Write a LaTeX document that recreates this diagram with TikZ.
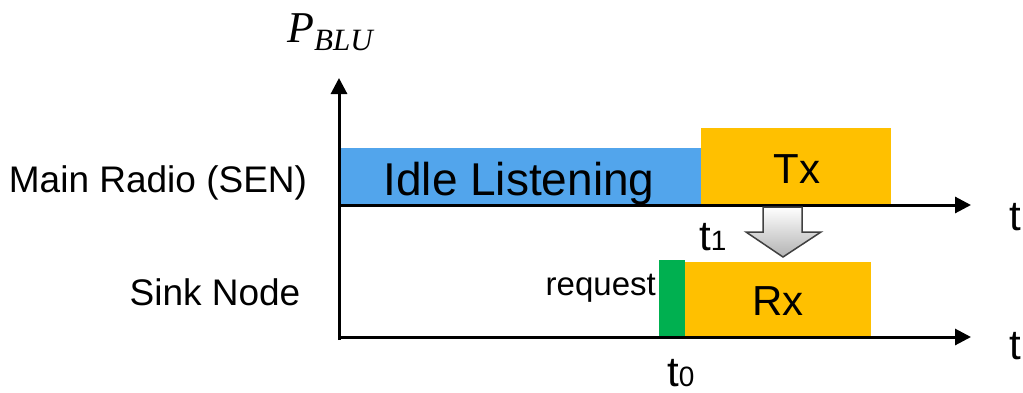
\documentclass[tikz,border=0pt]{standalone}
\usepackage{fontspec}
\setmainfont{Liberation Sans}
\newfontfamily\pfont{Liberation Serif}
\usetikzlibrary{arrows.meta}
\definecolor{idleblue}{HTML}{52A5EC}
\definecolor{txorange}{HTML}{FFC000}
\definecolor{reqgreen}{HTML}{00B050}
\begin{document}
\begin{tikzpicture}[x=1pt,y=-1pt,
  axis/.style={line width=3pt,-{Triangle[length=16pt,width=16pt]}},
  lbl/.style={inner sep=0pt,font=\fontsize{37}{40}\selectfont},
  big/.style={inner sep=0pt,font=\fontsize{42}{46}\selectfont}]
\useasboundingbox (0,0) rectangle (1023,392);
% bars
\fill[idleblue] (339,148) rectangle (703,205);
\fill[txorange] (701,128) rectangle (891,205);
\fill[reqgreen] (659,260) rectangle (685,337);
\fill[txorange] (685,262) rectangle (871,337);
% axes
\coordinate (o) at (339,340);
\coordinate (ytip) at (339,78);
\coordinate (a1s) at (339,205);
\coordinate (a1e) at (971,205);
\coordinate (a2s) at (339,337);
\coordinate (a2e) at (971,337);
\draw[axis] (o) -- (ytip);
\draw[axis] (a1s) -- (a1e);
\draw[axis] (a2s) -- (a2e);
% gray arrow
\shade[top color=white,bottom color=black!30,draw=black!75,line width=1.5pt,line join=miter]
  (763,207) -- (802,207) -- (802,232) -- (821,232) -- (783,257) -- (746,232) -- (763,232) -- cycle;
% labels
\node[lbl,anchor=base] (main) at (158,192) {Main Radio (SEN)};
\node[lbl,anchor=base] (sink) at (215,305) {Sink Node};
\node[inner sep=0pt,anchor=base,font=\fontsize{46}{50}\selectfont] (idle) at (519,195) {Idle Listening};
\node[big,anchor=base] (tx) at (797,183) {Tx};
\node[big,anchor=base] (rx) at (778,315) {Rx};
\node[big,anchor=base] (t1ax) at (1015,230) {t};
\node[big,anchor=base] (t2ax) at (1015,359) {t};
\node[big,anchor=base west] (t1) at (699,250) {t{\fontsize{28}{30}\selectfont 1}};
\node[big,anchor=base west] (t0) at (667,386) {t{\fontsize{28}{30}\selectfont 0}};
\node[inner sep=0pt,anchor=base east,font=\fontsize{33}{36}\selectfont] (req) at (656,295) {request};
\node[inner sep=0pt,anchor=base west] (p) at (287,42)
  {\pfont\itshape{\fontsize{44}{48}\selectfont P}\raisebox{-8pt}{\fontsize{31}{34}\selectfont BLU}};
\end{tikzpicture}
\end{document}
